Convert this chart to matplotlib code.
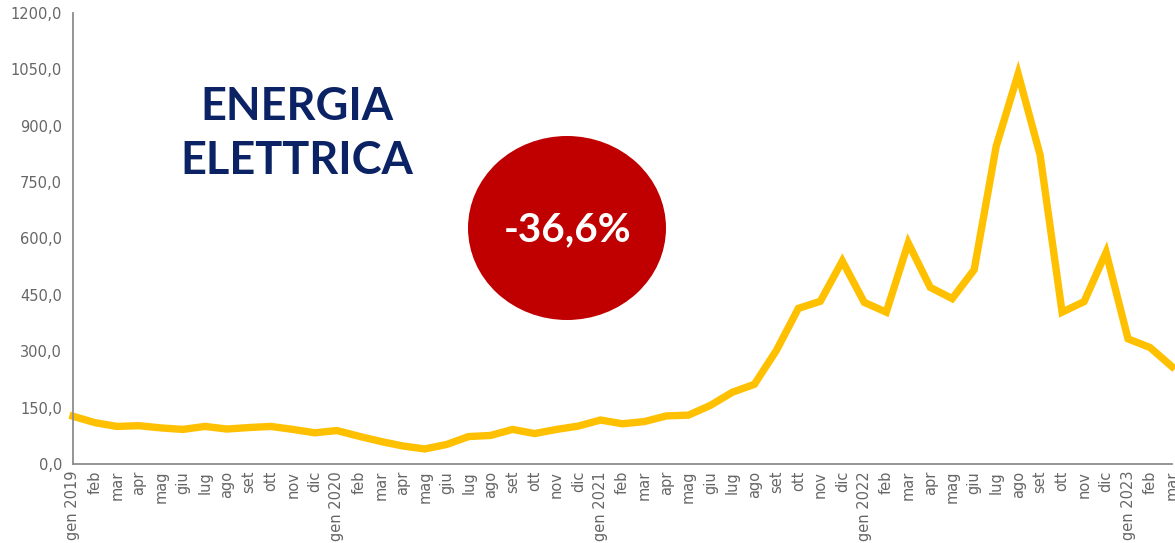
import numpy as np
import matplotlib
matplotlib.use("Agg")
from matplotlib import pyplot as plt
from matplotlib.patches import Ellipse

# mesi (gen 2019 - mar 2023)
mesi = ['gen 2019', 'feb', 'mar', 'apr', 'mag', 'giu', 'lug', 'ago', 'set', 'ott', 'nov', 'dic',
        'gen 2020', 'feb', 'mar', 'apr', 'mag', 'giu', 'lug', 'ago', 'set', 'ott', 'nov', 'dic',
        'gen 2021', 'feb', 'mar', 'apr', 'mag', 'giu', 'lug', 'ago', 'set', 'ott', 'nov', 'dic',
        'gen 2022', 'feb', 'mar', 'apr', 'mag', 'giu', 'lug', 'ago', 'set', 'ott', 'nov', 'dic',
        'gen 2023', 'feb', 'mar']

# prezzo energia elettrica
valori = [127, 110, 100, 102, 96, 92, 100, 93, 97, 100, 92, 83,
          89, 74, 60, 48, 40, 52, 73, 76, 92, 81, 92, 101,
          117, 107, 113, 128, 130, 156, 191, 212, 302, 414, 433, 540,
          430, 404, 588, 470, 440, 517, 845, 1038, 822, 404, 432, 563,
          333, 310, 259]

y_ticks = [0, 150, 300, 450, 600, 750, 900, 1050, 1200]

fig = plt.figure(figsize=(11.75, 5.43), dpi=100)
ax = fig.add_axes([73/1175, 1 - 464/543, (1172-73)/1175, (464-13)/543])

x = np.arange(len(valori))
ax.plot(x, valori, color='#FFC000', lw=5.3, solid_joinstyle='miter', clip_on=False)

ax.set_xlim(0, len(valori) - 1)
ax.set_ylim(0, 1200)
ax.set_yticks(y_ticks)
ax.set_yticklabels([('%.1f' % v).replace('.', ',') for v in y_ticks])
ax.set_xticks(x)
ax.set_xticklabels(mesi, rotation=90, va='top', ha='center')
ax.tick_params(axis='both', length=0, colors='#666666', labelsize=10.5)
ax.tick_params(axis='y', pad=8)
ax.tick_params(axis='x', pad=5)
for s in ['top', 'right']:
    ax.spines[s].set_visible(False)
for s in ['left', 'bottom']:
    ax.spines[s].set_color('#8c8c8c')
    ax.spines[s].set_linewidth(1.3)

# titolo
fig.text(297/1175, 1 - 134/543, 'ENERGIA\nELETTRICA', color='#0B2265', fontsize=32.5,
         fontweight='bold', family='Lato', ha='center', va='center', linespacing=1.35)

# ellisse rossa
ell = Ellipse((567/1175, 1 - 228/543), 198/1175, 184/543, transform=fig.transFigure,
              facecolor='#C00000', edgecolor='none')
fig.add_artist(ell)
fig.text(568/1175, 1 - 230/543, '-36,6%', color='white', fontsize=29, fontweight='bold',
         family='Lato', ha='center', va='center')

fig.savefig('out.png', dpi=100)
